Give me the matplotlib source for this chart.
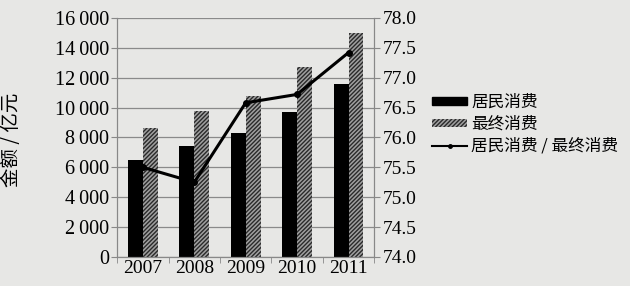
import matplotlib
matplotlib.use("Agg")
import matplotlib.pyplot as plt
from matplotlib.ticker import FuncFormatter, MultipleLocator
from matplotlib.patches import Patch
from matplotlib.lines import Line2D
import numpy as np

plt.rcParams['font.family'] = ['Liberation Serif', 'Noto Sans CJK SC', 'DejaVu Sans']
plt.rcParams['hatch.linewidth'] = 1.0

years = ['2007', '2008', '2009', '2010', '2011']
resident = [6500, 7400, 8300, 9700, 11600]
final = [8600, 9800, 10800, 12700, 15000]
ratio = [75.5, 75.25, 76.58, 76.72, 77.42]
labels = ['居民消费', '最终消费', '居民消费 / 最终消费']

bg = '#e7e7e5'
hatch_face = '#a0a0a0'
hatch_edge = '#2a2a2a'
fig = plt.figure(figsize=(6.3, 2.86), dpi=100, facecolor=bg)
ax = fig.add_axes([0.186, 0.1014, 0.408, 0.836])
ax.set_facecolor(bg)
x = np.arange(len(years))
w = 0.29
ax.bar(x - w / 2, resident, w, color='black', zorder=2)
ax.bar(x + w / 2, final, w, color=hatch_face, edgecolor=hatch_edge, hatch='////////', linewidth=0, zorder=2)
ax.set_ylim(0, 16000)
ax.set_xlim(-0.5, 4.5)
ax.yaxis.set_major_locator(MultipleLocator(2000))
ax.yaxis.set_major_formatter(FuncFormatter(lambda v, p: f'{int(v):,}'.replace(',', '\u2009')))
ax.yaxis.grid(True, color='#8a8a8a', linewidth=0.9, zorder=0)
ax.set_axisbelow(True)
ax.set_xticks(x)
ax.set_xticklabels(years)
ax.set_xticks(np.arange(-0.5, 5, 1), minor=True)
ax.tick_params(axis='x', which='major', length=0, labelsize=14, pad=2)
ax.tick_params(axis='x', which='minor', length=4, color='#888888')
ax.tick_params(axis='y', labelsize=14.5, length=4, color='#888888', pad=2)
ax.spines['top'].set_visible(False)
for s in ['left', 'right', 'bottom']:
    ax.spines[s].set_color('#888888')
ax.set_ylabel('金额 / 亿元', fontsize=14, family=['Noto Sans CJK SC'])
ax.yaxis.set_label_coords(-0.37, 0.49)

ax2 = ax.twinx()
ax2.plot(x, ratio, color='black', linewidth=2.2, marker='o', markersize=4, zorder=3)
ax2.set_ylim(74.0, 78.0)
ax2.yaxis.set_major_locator(MultipleLocator(0.5))
ax2.yaxis.set_major_formatter(FuncFormatter(lambda v, p: f'{v:.1f}'))
ax2.tick_params(axis='y', labelsize=14, length=4, color='#888888', pad=2)
ax2.spines['top'].set_visible(False)
for s in ['left', 'right', 'bottom']:
    ax2.spines[s].set_color('#888888')

handles = [
    Patch(facecolor='black', edgecolor='black'),
    Patch(facecolor=hatch_face, edgecolor=hatch_edge, hatch='////////', linewidth=0),
    Line2D([0], [0], color='black', linewidth=1.5, marker='o', markersize=2.5),
]
leg = fig.legend(handles, labels, loc='center left', bbox_to_anchor=(0.662, 0.566),
                 frameon=False, prop={'family': ['Noto Sans CJK SC'], 'size': 12},
                 handlelength=2.1, handleheight=0.35, handletextpad=0.25, labelspacing=0.3)

fig.savefig('out.png', dpi=100, facecolor=bg)
